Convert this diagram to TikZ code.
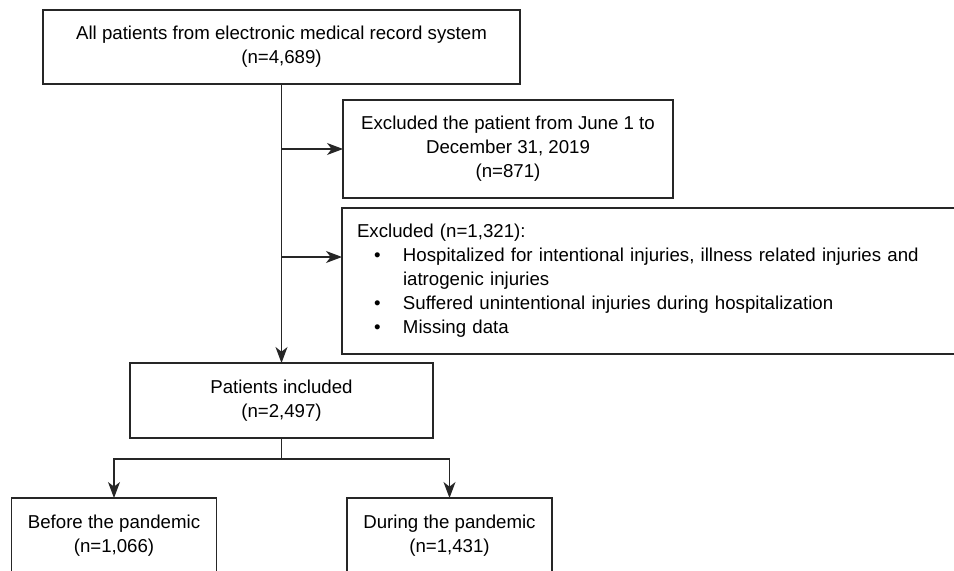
\documentclass[tikz,border=0pt]{standalone}
\usepackage{fontspec}
\setmainfont{Liberation Sans}
\usetikzlibrary{arrows.meta, positioning}
\newcommand{\bitem}{\hspace*{12.75pt}\makebox[21.75pt][l]{\textbullet}}
\newcommand{\bcont}{\hspace*{34.5pt}}

\begin{document}
\begin{tikzpicture}[x=0.75pt, y=-0.75pt,
    box/.style={draw=black!85, line width=0.85pt, inner sep=0pt, outer sep=0pt, align=center,
        font=\fontsize{14}{18}\selectfont},
    flow/.style={->, draw=black!85, line width=0.85pt},
    >={Stealth[length=12pt, width=9pt, inset=3.5pt]}]
    \useasboundingbox (0,0) rectangle (954,571);
    \clip (0,0) rectangle (954,571);

    \node[box, minimum width=357.75pt, minimum height=55.5pt] (all) at (281.5,47)
        {All patients from electronic medical record system\\(n=4,689)};
    \node[box, minimum width=247.5pt, minimum height=73.5pt] (excl1) at (508,149)
        {Excluded the patient from June 1 to\\December 31, 2019\\(n=871)};
    \node[box, minimum width=474.75pt, minimum height=109.5pt, inner xsep=11.25pt,
        text width=452.25pt, align=left] (excl2) at (658.5,281)
        {Excluded (n=1,321):\\
         \bitem Hospitalized for intentional injuries, illness related injuries and\\
         \bcont iatrogenic injuries\\
         \bitem Suffered unintentional injuries during hospitalization\\
         \bitem Missing data};
    \node[box, minimum width=227.25pt, minimum height=56.25pt] (incl) at (281.5,400.5)
        {Patients included\\(n=2,497)};
    \node[box, minimum width=153.75pt, minimum height=57pt] (before) at (114,536)
        {Before the pandemic\\(n=1,066)};
    \node[box, minimum width=153.75pt, minimum height=57pt] (during) at (449.5,536)
        {During the pandemic\\(n=1,431)};

    \coordinate (tap1) at (281.5,149);
    \coordinate (tap2) at (281.5,257);

    \draw[flow] (all) -- (incl);
    \draw[flow] (tap1) -- (excl1);
    \draw[flow] (tap2) -- (tap2 -| excl2.west);
    \draw[flow] (incl.south) -- ++(0,21) -| (before.north);
    \draw[flow] (incl.south) -- ++(0,21) -| (during.north);
\end{tikzpicture}
\end{document}
